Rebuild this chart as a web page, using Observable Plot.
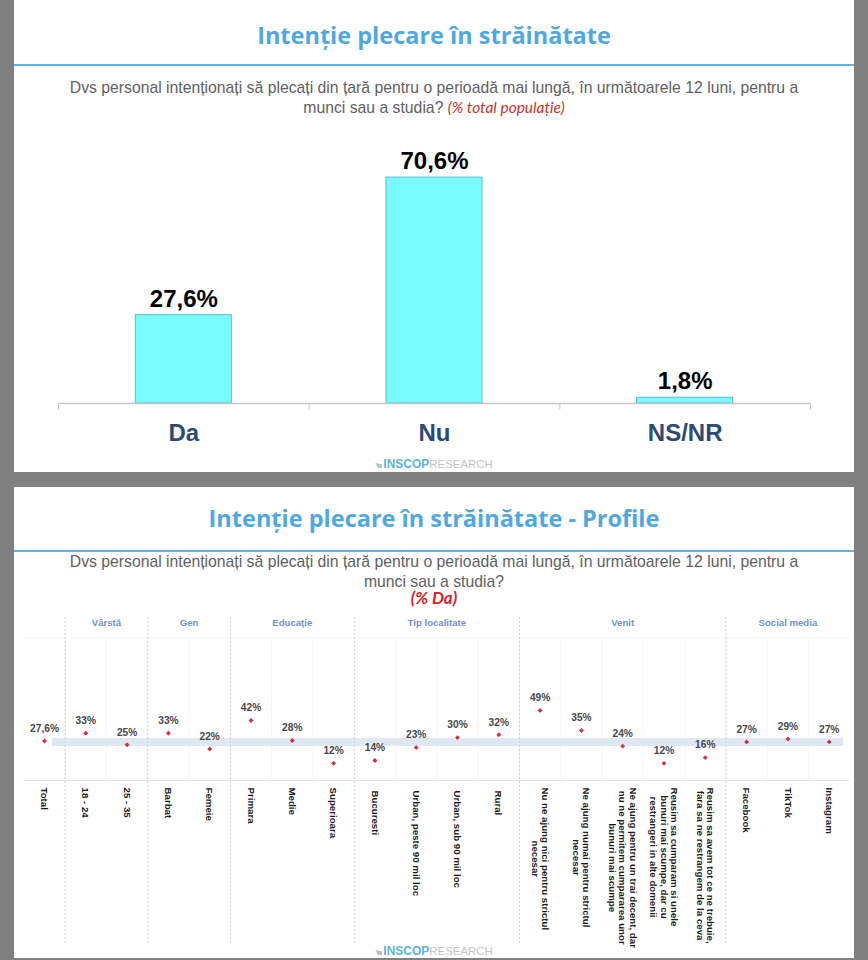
<!DOCTYPE html>
<html lang="ro">
<head>
<meta charset="utf-8">
<script src="https://cdn.jsdelivr.net/npm/d3@7"></script>
<script src="https://cdn.jsdelivr.net/npm/@observablehq/plot@0.6"></script>
<style>
  html, body { margin: 0; padding: 0; background: #808080; }
  #page { position: relative; width: 868px; height: 960px; overflow: hidden; font-family: "Liberation Sans", Arial, sans-serif; }
  .panel { position: absolute; left: 14px; width: 840px; background: #fff; }
  .title { position: absolute; left: 0; width: 840px; text-align: center; font-family: "Open Sans", sans-serif; font-weight: 700; font-size: 23.5px; line-height: 30px; color: #4fa9e0; }
  .rule { position: absolute; left: 0; width: 840px; height: 2px; background: #62b2e0; }
  .q { position: absolute; left: 0; width: 840px; text-align: center; font-size: 15.75px; line-height: 19.5px; color: #616161; }
  .red { font-family: Lato, sans-serif; font-style: italic; color: #c8322b; font-size: 15.5px; }
  .redb { position: absolute; left: 0; width: 840px; text-align: center; font-family: Lato, sans-serif; font-style: italic; font-weight: 700; color: #d0242c; font-size: 17px; line-height: 18px; }
  .logo { position: absolute; left: 0; width: 840px; text-align: center; font-size: 11.4px; line-height: 14px; color: #c4c4c4; }
  .logo b { color: #5cb4d8; font-size: 12px; }
  .logo i { display: inline-block; width: 7px; height: 5px; background: #b4c0c8; margin-right: 1px; font-style: normal; clip-path: polygon(0 0, 100% 30%, 100% 100%, 40% 100%); }
  .chart { position: absolute; left: 0; }
  svg { display: block; overflow: visible; }
</style>
</head>
<body>
<div id="page">
  <div class="panel" style="top:0;height:472px">
    <div class="title" style="top:20px">Intenție plecare în străinătate</div>
    <div class="rule" style="top:64px"></div>
    <div class="q" style="top:78px">Dvs personal intenționați să plecați din țară pentru o perioadă mai lungă, în următoarele 12 luni, pentru a<br>munci sau a studia? <span class="red">(% total populație)</span></div>
    <div class="chart" id="c1" style="top:120px"></div>
    <div class="logo" style="top:457px"><i></i><b>INSCOP</b>RESEARCH</div>
  </div>
  <div class="panel" style="top:487px;height:471px">
    <div class="title" style="top:16px">Intenție plecare în străinătate - Profile</div>
    <div class="rule" style="top:63px"></div>
    <div class="q" style="top:65px">Dvs personal intenționați să plecați din țară pentru o perioadă mai lungă, în următoarele 12 luni, pentru a<br>munci sau a studia?</div>
    <div class="redb" style="top:102px">(% Da)</div>
    <div class="chart" id="c2" style="top:125px"></div>
    <div class="logo" style="top:457px"><i></i><b>INSCOP</b>RESEARCH</div>
  </div>
</div>
<script>
// Top chart
const answers = ["Da", "Nu", "NS/NR"];
const answerValues = [27.6, 70.6, 1.8];
const answerLabels = ["27,6%", "70,6%", "1,8%"];

// Profile chart
const profileCategories = ["Total", "18 - 24", "25 - 35", "Barbat", "Femeie", "Primara", "Medie", "Superioara",
  "Bucuresti", "Urban, peste 90 mil loc", "Urban, sub 90 mil loc", "Rural",
  "Nu ne ajung nici pentru strictul\nnecesar", "Ne ajung numai pentru strictul\nnecesar",
  "Ne ajung pentru un trai decent, dar\nnu ne permitem cumpararea unor\nbunuri mai scumpe",
  "Reusim sa cumparam si unele\nbunuri mai scumpe, dar cu\nrestrangeri in alte domenii",
  "Reusim sa avem tot ce ne trebuie,\nfara sa ne restrangem de la ceva",
  "Facebook", "TikTok", "Instagram"];
const profileValues = [27.6, 33, 25, 33, 22, 42, 28, 12, 14, 23, 30, 32, 49, 35, 24, 12, 16, 27, 29, 27];
const profileLabels = ["27,6%", "33%", "25%", "33%", "22%", "42%", "28%", "12%", "14%", "23%", "30%", "32%", "49%", "35%", "24%", "12%", "16%", "27%", "29%", "27%"];
const groupNames = ["Vârstă", "Gen", "Educație", "Tip localitate", "Venit", "Social media"];
const groupSizes = [2, 2, 3, 4, 5, 3];
const bandLow = 23.8, bandHigh = 29.4;

// ---- top chart
const w1 = 840, ml1 = 44, mr1 = 44;
const step1 = (w1 - ml1 - mr1) / answers.length;
const table1 = answers.map((a, i) => ({a, v: answerValues[i], t: answerLabels[i]}));
document.getElementById("c1").append(Plot.plot({
  width: w1, height: 340,
  marginLeft: ml1, marginRight: mr1, marginTop: 27, marginBottom: 57,
  x: {domain: answers, paddingInner: 0.617, paddingOuter: 0.3085, round: false, label: null},
  y: {domain: [0, 80], axis: null},
  marks: [
    Plot.barY(table1, {x: "a", y: "v", fill: "#7afcff", stroke: "#55bfd0", strokeWidth: 1}),
    Plot.ruleY([0], {stroke: "#c6c6c6", strokeWidth: 1.5}),
    Plot.ruleX(answers, {x: d => d, y1: 0, y2: -1.9, dx: -step1 / 2, stroke: "#c6c6c6"}),
    Plot.ruleX(answers.slice(-1), {x: d => d, y1: 0, y2: -1.9, dx: step1 / 2, stroke: "#c6c6c6"}),
    Plot.text(table1, {x: "a", y: "v", text: "t", dy: -16, fontSize: 24, fontWeight: 700, fill: "#000", fontFamily: "Liberation Sans"}),
    Plot.axisX({tickSize: 0, tickPadding: 20, fontSize: 24, fontWeight: 700, fill: "#2d4a73", fontFamily: "Liberation Sans", label: null})
  ]
}));

// ---- profile chart
const n = profileCategories.length;
const table2 = profileCategories.map((c, i) => ({i: i + 0.5, c, v: profileValues[i], t: profileLabels[i]}));
let acc = 1;
const groups = groupNames.map((g, k) => {
  const start = acc; acc += groupSizes[k];
  return {g, start, mid: (start + acc) / 2, end: acc};
});
const ctx = document.createElement("canvas").getContext("2d");
const lblFont = "Liberation Sans";
const lblSize = 9.7;
ctx.font = `bold ${lblSize}px "${lblFont}"`;
const tipGroup = groups[3];
const labelMarks = table2.map(d => {
  const w = Math.max(...d.c.split("\n").map(s => ctx.measureText(s).width));
  const gap = d.i > tipGroup.start && d.i < tipGroup.end ? 10 : 7;
  return Plot.text([d], {
    x: "i", y: 0, text: "c", rotate: 90, textAnchor: "middle", lineAnchor: "middle",
    dy: gap + w / 2, lineHeight: 1.08, fontSize: lblSize, fontWeight: 700, fontFamily: lblFont, fill: "#1a1a1a"
  });
});
document.getElementById("c2").append(Plot.plot({
  width: 840, height: 333,
  marginLeft: 9.35, marginRight: 4.65, marginTop: 5, marginBottom: 2,
  x: {domain: [0, n], axis: null},
  y: {domain: [0, 100], range: [168, 25], axis: null},
  marks: [
    Plot.ruleX(d3.range(1, n), {x: d => d, y1: 0, y2: 100, stroke: "#f5f5f5"}),
    Plot.ruleY([100], {x1: 0, x2: n, stroke: "#f5f5f5"}),
    Plot.ruleY([0], {x1: 0, x2: n, stroke: "#e8e8e8", strokeWidth: 1.2}),
    Plot.rect([{lo: bandLow, hi: bandHigh}], {x1: 0.69, x2: 19.85, y1: "lo", y2: "hi", fill: "#dfe7f3"}),
    Plot.ruleX(groups.map(d => d.start), {x: d => d, stroke: "#cecece", strokeDasharray: "2,2"}),
    Plot.text(groups, {x: "mid", frameAnchor: "top", dy: 2, text: "g", fontSize: 9.6, fontWeight: 700, fontFamily: lblFont, fill: "#7391c9"}),
    Plot.dot(table2, {x: "i", y: "v", symbol: "diamond2", r: 2.2, fill: "#d0323f"}),
    Plot.text(table2, {x: "i", y: "v", text: "t", dy: -12.5, fontSize: 10.2, fontWeight: 700, fontFamily: lblFont, fill: "#484848"}),
    ...labelMarks
  ]
}));
</script>
</body>
</html>
